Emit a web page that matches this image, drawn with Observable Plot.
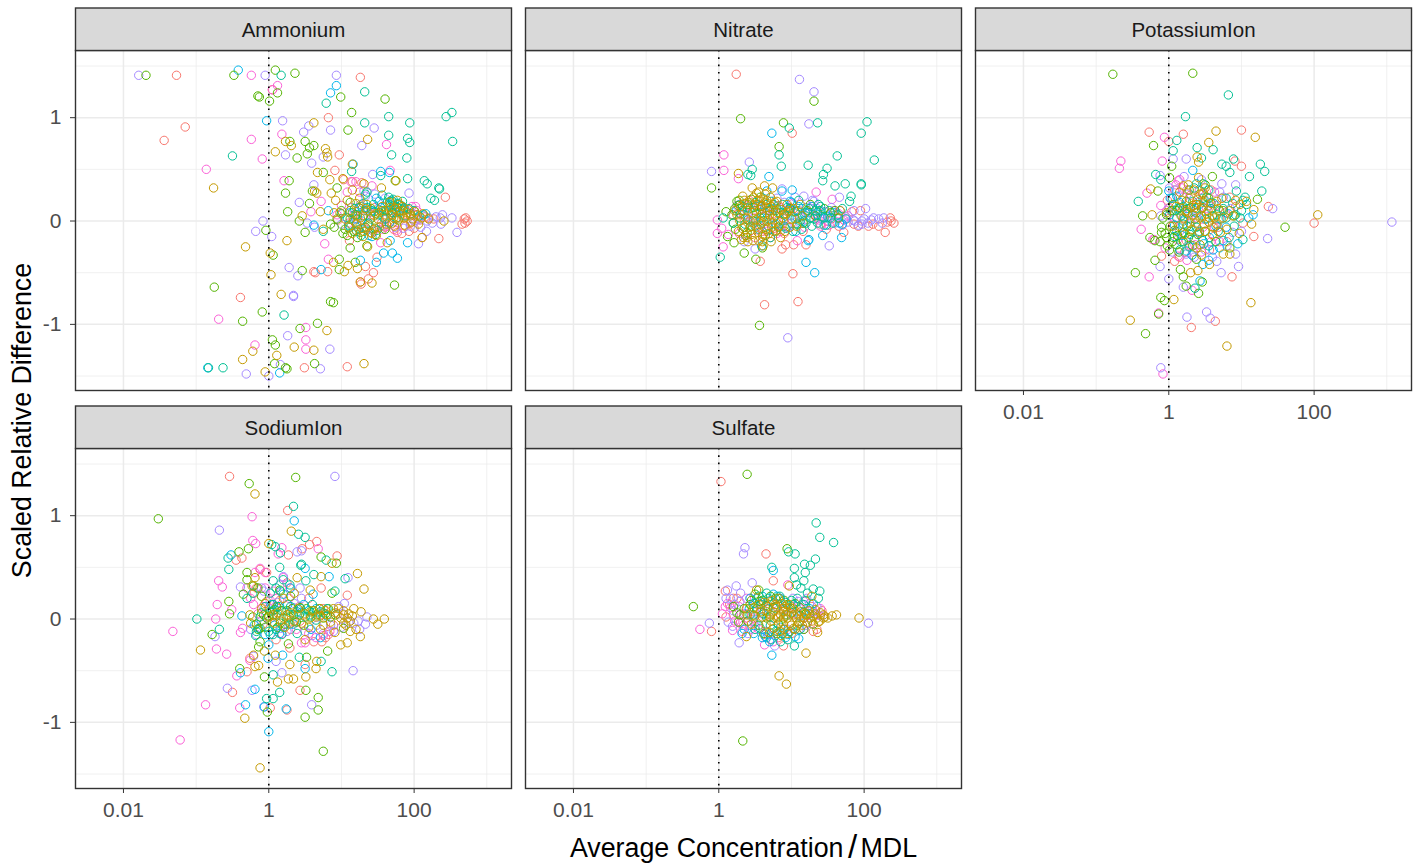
<!DOCTYPE html>
<html><head><meta charset="utf-8">
<style>html,body{margin:0;padding:0;background:#fff}</style>
<script src="https://cdn.jsdelivr.net/npm/d3@7"></script>
<script src="https://cdn.jsdelivr.net/npm/@observablehq/plot@0.6"></script>
</head><body><div id="chart"></div>
<script>
// Each list alternates log10(average concentration / MDL), scaled relative difference.
const colours = ["#F8766D","#FB61D7","#A58AFF","#00B6EB","#53B400","#00C094","#C49A00"];
const panels = ["Ammonium","Nitrate","PotassiumIon","SodiumIon","Sulfate"];
const xTicks = [0.01,1,100], xMinor = [0.1,10,1000], yTicks = [-1,0,1], yMinor = [-1.5,-0.5,0.5,1.5];

const ammoniumRed = [-1.27,1.41,-1.15,.91,-1.44,.78,1.26,1.39,.82,1,.97,.64,.91,.49,-.39,-.74,.49,-1.42,1.08,-1.41,.05,1.27,2.43,.23,2.34,-.17,2.11,-.16,1.77,-.11,1.83,-.12,1.93,-.1,2.27,.02,2.69,.02,2.73,0,2.66,-.03,2.7,-.02,2.71,.03,1.33,-.44,1.49,-.35,1.44,-.5,1.37,-.56,1.27,-.61,1.26,-.59,.81,-.49,.62,-.49,.64,-.5,1.11,-.19,1.03,.4,1.28,.37,1.63,.03,1.58,-.05,1.9,.06,2,.06,1.31,-.06,1.4,.06,1.67,.06,1.75,.02,1.85,.05,1.95,-.02,2.05,.02,2.15,.04,1.55,-.02,1.15,.38,1.22,.02,1.35,-.08,1.46,.13,1.6,-.06,1.72,-.08,1.88,-.05,2,-.07,2.08,.01,2.2,.03,1.25,.12,.95,.01];
const ammoniumGold = [-.76,.32,.62,.95,1.36,.79,.78,.7,.8,.66,.81,.62,.23,.77,.31,.73,.09,.67,.67,.47,.84,.4,1.02,.41,1.31,.36,1.75,.39,1.55,.32,1.15,.55,.66,.27,.63,.29,.86,.27,.92,.2,1.08,.2,1.2,.17,.71,.09,.46,.05,.98,.08,1.35,.16,.75,-.08,.25,-.19,-.32,-.25,.02,-.31,.03,-.52,.89,-.4,1.09,-.43,1.04,-.49,1.22,-.46,1.26,-.59,1.42,-.6,1.63,-.21,1.36,-.25,2.11,-.16,.17,-.71,.8,-1.06,.35,-1.22,.62,-1.25,-.22,-1.26,.11,-1.3,-.36,-1.34,-.05,-1.46,1.31,-1.38,1.21,-.03,1.31,-.1,1.4,-.11,1.44,-.08,1.17,0,1.26,.03,1.72,.03,1.79,.16,1.86,.03,1.95,.05,2.04,.06,2.41,0,1.67,.13,1.58,.1,1.81,.1,1.35,.1,1.74,.12,1.82,.07,1.9,.08,1.98,.02,2.1,.03,1.6,.06,1.5,.02,1.45,.05,1.7,-.02,1.1,-.06,1.2,-.09,1.05,.02,1.12,.1,1.15,-.12,1.22,.05,1.28,-.07,1.33,.12,1.38,-.04,1.42,-.12,1.47,.07,1.52,-.06,1.56,.14,1.62,-.03,1.66,.18,1.69,.06,1.73,-.05,1.77,.2,1.8,.03,1.84,.14,1.87,-.04,1.92,.11,1.96,-.01,2.01,.09,2.06,-.03,2.12,.07,2.2,.02,1.48,-.14,1.3,-.15,1.25,.22,1.15,.3,.9,.08];
const ammoniumGreen = [-1.69,1.41,-.48,1.41,.09,1.46,.36,1.43,-.15,1.21,-.13,1.2,.12,1.24,.01,1.16,.99,1.2,1.6,1.18,1.14,1.05,1.09,.88,.5,.77,.29,.77,.62,.73,.56,.71,.53,.65,.39,.61,.28,.39,.23,.27,.26,.09,.6,.29,.56,.17,.42,0,.5,-.11,-.04,-.09,.06,-.33,.46,-.48,.97,-.37,.97,-.47,1.19,-.4,.85,-.78,.89,-.79,1.73,-.62,-.75,-.64,-.09,-.88,-.36,-.97,.43,-1.04,.67,-.99,.05,-1.15,.09,-1.2,.08,-1.38,.23,-1.42,.25,-1.43,.63,-1.38,1.35,-.24,1.02,-.12,.85,-.03,.94,.02,1.12,.02,1.19,.06,1.26,-.11,1.47,-.13,1.74,.39,.94,.32,1.12,.18,.75,.47,1.77,.13,1.67,.19,1.17,-.1,1.12,-.26,1.3,.05,1.4,.02,1.52,.08,1.62,.1,1.05,-.08,1.15,.08,1.24,.13,1.33,-.06,1.41,.12,1.46,-.07,1.55,.1,1.6,-.08,1.7,.08,1.78,.01,1.85,.1,1.95,.07,.9,-.06,1,.1,1.08,-.14,1.22,-.16];
const ammoniumTeal = [.17,1.41,1.32,1.25,.79,1.14,1.65,1.01,1.32,.95,1.94,.95,2.44,1.01,2.52,1.05,1.65,.83,1.91,.8,1.94,.76,2.53,.77,1.69,.64,1.9,.61,-.5,.63,1.91,.41,2.14,.39,2.18,.36,2.34,.32,2.35,.31,2.23,.22,2.28,.2,1.14,.48,1.33,.26,1.65,.23,.75,-.1,.21,-.91,-.63,-1.42,-.83,-1.42,1.54,.44,1.7,.19,1.72,.15,1.74,.11,1.35,.13,1.21,.06,1.08,.03,1.65,.1,1.51,.06,1.12,-.06,1.86,.13,2.13,.06,1.21,-.1,1.78,.17,1.75,.08,1.68,.14,1.82,.15,1.6,.02,1.42,.1,1,.07,1.1,-.04,1.18,.12,1.24,-.08,1.3,.17,1.37,-.02,1.44,.16,1.49,-.09,1.57,.04,1.63,.18,1.66,-.02,1.71,.21,1.76,.03,1.8,.1,1.84,.19,1.88,.05,1.93,.12,2,.1,2.07,.05,1.56,.25,1.35,.28,1.27,-.14];
const ammoniumBlue = [-.42,1.46,.93,1.31,.85,1.24,-.03,.97,1.16,.55,1.54,.48,1.66,.47,.62,-.04,2.16,.07,1.91,-.21,1.7,-.31,1.77,-.36,1.58,-.31,1.48,-.4,1.26,-.38,.72,-.47,1.42,-.15,-.84,-1.42,.15,-1.47,1.67,-.19,1.31,.1,1.54,.13,1.28,0,.82,.1,1.12,.08,1.2,.02,1.27,.14,1.36,-.03,1.45,.09,1.52,.19,1.6,.1,1.69,.2,1.76,.14,1.85,.12,1.38,-.14,1.48,.22];
const ammoniumPurple = [-1.79,1.41,-.05,1.41,.93,1.41,.19,.97,.55,.92,.48,.86,.85,.88,1.45,.9,1.28,.73,.23,.64,.75,.62,.59,.56,1.43,.45,.62,.35,1.93,.27,.42,.18,-.08,0,-.18,-.1,.04,-.15,.28,-.45,.4,-.53,.34,-.72,.34,-.73,.26,-1.11,.84,-1.24,.16,-1.39,-.31,-1.48,0,-1.5,.71,-1.43,2.39,.06,2.52,.03,2.37,-.03,2.59,-.11,2.06,-.22,2.17,-.1,2.09,-.06,.53,-.02,.63,-.06,1.31,.29,1.67,.16,1.26,.16,2,0,2.36,.03,2.18,0,1,-.03,1.14,.13,1.22,-.05,1.33,.24,1.39,.08,1.46,.26,1.55,-.05,1.6,.22,1.74,-.06,1.85,-.07,1.95,-.05,2.05,.03,2.12,.05,2.25,-.02,2.3,.04];
const ammoniumPink = [-.24,1.41,.12,1.31,.05,1.27,.18,.84,-.24,.79,-.09,.6,-.86,.5,-.69,-.95,1.62,.74,1.67,.49,.21,.39,1.08,.28,1.13,.38,.72,.19,.58,.09,.77,-.22,.82,-.37,.51,-1.03,.51,-1.15,.51,-1.24,-.19,-1.2,2.02,.14,1.42,.34,1.54,-.21,.94,.06,1.63,-.05,1.1,-.02,1.17,.06,1.25,.28,1.33,.05,1.44,-.1,1.5,.12,1.57,-.08,1.7,.1,1.76,-.09,1.88,.11,1.97,.14,2.04,.1,1.2,.38,1,.15];

const nitrateRed = [.24,1.42,1.01,.85,2.29,-.11,.57,-.39,.63,-.81,1.02,-.51,1.09,-.78,.87,-.27,.92,-.23,1.03,-.23,1.2,-.23,2.36,.03,2.41,-.02,2.06,-.05,1.83,.09,1.95,.1,1.72,-.11,2.37,0,2.32,-.01,.71,-.16,.98,.13,.48,-.02,.29,.16,.85,-.1,1.31,.06,1.4,-.03,1.86,-.03,.35,.02,.42,.2,.55,.16,.6,-.1,.68,.1,.76,-.07,.82,.15,.9,-.12,1,-.02,1.1,.1,1.16,-.1,1.25,.03,1.36,.09,1.48,-.08,1.55,.02,1.65,-.05,1.75,.02,1.92,-.05,2.12,-.03,2.2,-.05];
const nitrateGold = [.27,.46,.46,.32,.63,.34,.74,.32,.61,-.24,1.67,.1,.25,.06,.32,-.07,.39,-.16,.43,0,.48,.23,.5,.1,.52,-.06,.57,.19,.59,.06,.61,-.13,.64,.26,.66,0,.68,.13,.71,.23,.73,-.06,.75,.1,.8,.19,.82,0,.85,-.16,.89,.06,.94,.16,.98,-.06,.39,.1,.45,-.13,.55,-.19,.29,0,1.12,.16,.34,-.16,.43,-.06,.57,0,.6,.15,.7,.06,.55,.28,.66,.2,.78,.05,.75,-.1,.22,.1,.27,-.1,.3,.14,.31,-.18,.35,.2,.37,.03,.4,-.2,.42,.18,.44,-.09,.46,.08,.47,-.19,.49,.16,.51,.01,.53,.2,.54,-.11,.56,.11,.58,-.03,.6,-.15,.62,.21,.63,.04,.65,-.08,.67,.17,.69,-.12,.7,.01,.72,.14,.74,-.02,.77,.18,.79,-.09,.81,.08,.83,-.05,.86,.11,.88,.03,.91,-.1,.93,.07,.96,.1,1,.02,1.03,.12,1.07,-.05,1.15,.05,.36,.17,.33,.24,.52,.27,.6,-.2,.72,-.2];
const nitrateGreen = [1.31,1.16,.3,.99,.89,.95,.83,.72,-.1,.32,.21,-.21,.35,-.31,.51,-.37,.56,-1.01,.12,-.15,.25,.19,.1,.09,.57,.23,.29,.03,.48,.13,.75,.16,1.08,-.03,1.26,.16,1.54,.08,.2,-.02,.39,-.11,.62,0,.22,.12,.28,.2,.35,-.06,.4,.16,.18,.06,.23,-.08,.27,.15,.32,.1,.37,-.14,.44,-.05,.45,.21,.52,.07,.58,.14,.64,-.14,.7,.1,.78,.1,.82,-.06,.9,.07,.98,.12,1.05,.09,1.16,-.02,1.22,.1,1.33,.05,1.45,.12,1.6,.1,1.65,.03,.6,-.26];
const nitrateTeal = [.97,.9,1.36,.95,2.04,.96,1.96,.85,.83,.64,1.63,.63,2.14,.59,.86,.53,1.23,.54,1.49,.51,1.44,.45,1.43,.39,1.6,.34,1.74,.36,1.96,.35,1.96,.36,1.82,.24,1.8,.19,.46,.5,.4,.45,.44,.44,.02,-.35,.2,-.02,.06,.03,.71,-.16,1.31,.02,1.54,.03,1.12,0,.94,.13,.57,.03,1.37,.16,1.26,.03,.75,.03,.39,.13,1.15,.05,1.2,-.02,1.42,.04,1.38,.1,1.05,.02,.9,-.05,.65,.16,.5,-.05,.3,.07,.36,-.03,.42,.12,.5,.18,.55,-.08,.6,.08,.68,-.05,.72,.19,.78,-.1,.84,.08,.88,.16,.92,-.07,.97,.09,1.02,-.1,1.08,.1,1.14,-.08,1.19,.08,1.24,.12,1.28,-.05,1.33,.1,1.36,-.02,1.4,.14,1.45,.03,1.48,-.04,1.52,.1,1.57,-.02,1.64,.06,1.7,.12,1.1,.2];
const nitrateBlue = [.73,.85,.69,.43,1.01,.3,.87,.29,1.2,-.4,1.32,-.5,1.24,-.18,1.23,-.19,1.43,-.14,1.69,-.16,.59,-.24,1.7,-.03,.98,.19,.29,.16,.66,.29,1.08,.03,.48,0,1.4,.1,.85,0,1.17,0,1.1,.14,.8,.12,.24,.1,.33,.14,.4,.01,.52,.14,.6,.03,.72,.12,.78,-.03,.92,.05,1,.18,1.06,-.1,1.15,.12,1.23,.08,1.28,.14,1.36,.06,1.45,-.04,1.5,.04,1.58,.08,1.66,-.02,1.75,.02];
const nitratePurple = [1.11,1.37,1.31,1.25,1.24,.94,.42,.57,-.1,.48,.95,-1.13,1.52,-.24,2.02,.12,2.27,.03,1.97,-.03,1.87,0,.87,.31,1.66,.23,1.17,.24,2.13,.03,1.86,.1,.5,-.27,1.31,.19,1.67,.1,1.97,0,.66,.1,.39,.06,.94,-.06,1.5,.05,1.6,-.02,1.75,.04,.25,.15,.35,-.2,.55,.14,.72,-.03,.8,.22,.9,.18,1,.05,1.05,.23,1.12,-.02,1.2,.13,1.29,.2,1.35,.12,1.42,.02,1.55,.13,1.62,.05,1.7,-.04,1.78,-.01,1.85,.01,1.92,-.04,2,.02,2.05,-.02,2.1,.01,2.2,.02,2.25,-.02];
const nitratePink = [.07,.64,.07,.49,.27,.41,-.02,.01,.04,-.07,-.02,-.12,.06,-.25,1.34,.28,1.56,.21,.13,-.13,.48,.03,.98,.1,1.35,.03,1.63,.03,.57,-.06,.34,.06,.85,.13,1.49,0,1.08,-.19,1.2,.08,1.4,-.05,.2,.06,.28,-.12,.4,.15,.5,-.16,.6,.12,.66,-.1,.74,.07,.8,-.12,.9,.02,.96,-.06,1.02,.17,1.12,.05,1.18,-.06,1.28,.14,1.38,.01,1.46,.09,1.52,-.04,1.58,.1,1.65,.07,1.72,.01,1.78,.05];

const potassiumRed = [-.27,.86,.2,.84,1,.88,0,.77,1,.53,.91,.58,1.37,.14,2,-.02,1.17,-.15,.87,-.54,.31,-1.03,.64,-.97,.08,-.39,-.1,-.34,.47,.26,.84,.23,1.02,-.02,.24,-.19,.56,-.28,.01,.13,.38,.16,.68,-.06,-.02,.2,.08,.3,.18,.1,.22,-.3,.3,.25,.42,-.12,.5,.2,.62,-.15,.7,.02,.8,-.2,.92,.14,.58,.3,.15,-.35];
const potassiumGold = [.65,.87,1.19,.81,.55,.76,.39,.62,.41,.57,.41,.42,-.25,.31,-.23,.06,2.05,.06,1.14,-.03,1.17,.11,.97,-.12,.3,-.5,.4,-.48,.07,-.76,-.53,-.96,1.13,-.79,.8,-1.21,.2,.34,.27,.35,.84,-.32,.75,-.32,.56,-.42,-.03,.08,.24,.1,.33,.06,.38,.16,.43,.03,.47,.13,.49,-.03,.56,.03,.61,-.06,.66,-.03,.43,.26,.47,.27,.2,.03,.29,-.02,.38,-.26,.43,-.23,.66,.19,.75,.03,.84,.1,.98,.16,1.07,.19,.36,.13,.54,.1,.1,.14,.14,-.05,.18,.2,.22,-.13,.26,.08,.28,.22,.32,-.08,.34,.15,.37,-.02,.4,.21,.42,-.11,.45,.05,.48,.18,.5,-.1,.52,.07,.55,-.01,.58,.17,.6,-.13,.63,.03,.68,.12,.71,-.11,.73,.22,.8,-.08,.88,.05,.92,.2,.05,-.05,.15,.28,.35,.3,.5,.32,.45,-.33];
const potassiumGreen = [-.77,1.42,.33,1.43,-.21,.73,.04,.53,.01,.42,-.15,.29,-.36,.05,1.6,-.06,1.22,.21,-.46,-.5,-.19,-.38,-.32,-1.09,-.14,-.9,-.11,-.74,-.06,-.77,.2,-.54,.16,-.47,.24,-.63,.46,-.59,.41,-.7,.38,-.37,.6,.43,.5,.35,-.26,-.16,-.1,-.06,-.1,-.11,-.19,-.19,-.03,-.16,.06,-.16,.11,-.23,.01,-.28,.2,-.11,.29,-.1,.06,.16,.15,.13,-.03,.06,.24,.19,.84,-.26,.75,.1,.52,.23,-.12,-.2,-.08,.03,-.05,-.12,-.02,-.24,.02,-.05,.03,.1,.05,-.2,.08,-.09,.1,.1,.12,-.14,.14,-.3,.17,.05,.2,-.2,.22,.09,.25,-.05,.27,-.16,.3,.13,.33,-.24,.36,.02,.4,-.13,.45,.12,.5,-.1,.55,.22,.6,.05,.65,-.2,.7,.1,.9,.05,.28,.3];
const potassiumTeal = [.82,1.22,.23,1.01,.11,.78,.06,.68,.39,.71,.61,.69,.45,.61,.73,.55,.79,.53,.89,.6,.84,.47,1.26,.55,1.32,.48,1.11,.43,1.28,.29,.93,.29,-.18,.45,-.11,.4,-.42,.19,.15,-.28,1.02,-.18,.79,.22,1.05,.23,1.07,.16,.98,.03,.38,.36,.47,-.19,.38,-.06,.2,-.03,.66,.06,.79,.03,.11,.03,.29,-.13,.36,-.65,.47,.36,.05,.22,.08,-.15,.12,.12,.17,-.2,.2,.14,.25,.07,.28,-.25,.33,.19,.38,.12,.42,-.1,.47,.22,.5,.02,.55,-.24,.58,.12,.62,.17,.68,-.1,.72,.02,.75,.12,.83,-.16,.88,.17,.92,.06,1,.1,.35,.32,.55,.3,1.02,.2,.9,-.05];
const potassiumBlue = [.33,.49,0,.29,.43,-.58,.11,.24,.2,0,.01,.06,.47,-.42,.75,-.19,.61,-.28,1.16,.06,.38,.08,.56,-.16,.79,-.06,.11,-.1,.24,-.29,.02,.22,.05,.1,.08,-.04,.15,.18,.18,-.14,.25,.12,.3,-.05,.35,-.18,.42,.16,.48,-.22,.52,.02,.58,.18,.65,-.05,.7,-.26,.82,.07,.95,-.22,1.1,.03,.32,-.33,.55,-.38];
const potassiumPurple = [3.07,-.01,1.43,.12,1.36,-.17,.96,-.44,.72,-.5,0,-.56,-.12,-.44,.25,-.93,.52,-.88,.57,-.94,-.11,-1.42,.24,.6,.06,.6,-.12,.44,.21,.43,.73,.36,.92,.35,.2,-.64,-.11,.05,.01,.32,.47,.13,.88,-.11,.24,-.32,.66,-.39,.75,.23,0,.12,.05,-.3,.1,.3,.15,-.1,.25,.26,.3,.02,.35,-.35,.4,.08,.5,-.28,.55,.15,.6,-.35,.7,.28,.8,-.24,.85,.12,1,-.1,.92,-.32,.45,.4];
const potassiumPink = [-.06,.81,-.09,.58,-.66,.58,-.68,.51,-.3,.27,-.11,.15,-.38,-.08,-.22,-.18,-.2,-.18,-.27,-.54,-.14,-.89,-.08,-1.48,.32,-.67,-.05,-.26,.13,.39,.15,.4,.2,.23,.63,.28,.15,.13,.38,.03,.29,-.23,.13,-.34,.47,-.06,.06,-.03,.63,-.06,.36,-.23,-.03,.1,.03,.22,.08,.02,.1,.35,.12,-.18,.18,.32,.22,.02,.25,.3,.28,.12,.33,-.3,.4,.18,.45,-.3,.52,.12,.58,-.2,.65,.15,.7,-.2,.78,.08,.25,-.38,.42,.3];

const sodiumRed = [-.54,1.38,.26,1.05,.66,.75,.56,.72,.46,.68,.27,.62,.94,.61,-.45,.57,-.37,.59,-.03,.45,1.08,.23,.72,.3,-.5,-.71,-.3,-.51,.02,-.86,.25,-.88,.43,-.69,.5,-.44,.73,-.22,.78,-.18,.29,-.28,-.26,-.38,-.12,.48,-.03,.17,.43,-.02,.71,.04,.89,-.06,.11,.11,-.17,.3,-.2,.25,-.08,-.05,.05,.02,.15,.18,.3,-.1,.42,.12,.55,.2,.62,-.22,.75,.1,.82,-.15,.95,.05,.1,-.2,.25,.35];
const sodiumGold = [-.19,1.21,0,.73,.31,.85,.87,.54,1.22,.44,1.31,.29,.72,.41,.39,.4,.57,.28,-.19,.4,-.23,.32,-.94,-.3,-.33,-.96,-.12,-1.44,.51,-.56,.65,-.48,.66,-.41,.34,-.58,.27,-.58,.12,-.61,.29,-.44,.09,-.35,-.21,-.35,-.19,-.46,-.14,-.45,-.06,-.31,.99,-.25,1.08,-.23,1.59,0,1.44,0,1.5,-.05,1.27,.07,1.17,.1,1.26,-.17,.91,-.13,1.12,-.12,.71,-.1,-.26,.04,.99,.01,1.08,.01,1.12,-.02,1.03,.04,.89,.1,.8,.04,.71,.03,.2,.01,.25,.04,.16,-.02,.29,-.04,.06,.04,.57,.01,1.03,-.04,-.25,-.04,-.1,.1,0,.02,.08,-.04,.12,.06,.22,-.08,.3,.06,.35,-.02,.4,.1,.45,-.04,.5,.05,.55,-.08,.6,.08,.65,.02,.7,.1,.75,-.06,.78,.08,.85,-.03,.92,.06,.96,.1,1.03,.08,1.06,-.06,1.1,.05,1.15,.03,1.2,-.1,.35,.25,.2,.2,-.05,.15,.5,-.2];
const sodiumGreen = [-1.52,.97,.37,1.37,-.27,1.31,-.41,.65,-.28,.68,-.55,.17,-.54,.05,-.78,-.15,-.4,-.48,-.06,-.56,-.02,-.9,.5,-.95,.68,-.88,.68,-.76,.51,-.69,.52,-.37,.75,-1.28,.81,-.31,.72,.6,.93,.54,.27,-.24,-.14,-.27,-.12,-.22,-.3,.45,-.3,.38,-.35,.24,-.21,.32,-.1,.22,.87,.25,-.03,.01,.06,.04,-.17,-.05,-.12,-.09,.43,.11,.66,.04,.75,.01,.25,.08,.16,-.04,.11,.12,-.07,.04,.02,.07,1.03,-.09,.57,.07,.34,.04,-.22,.02,-.15,-.1,-.1,.06,-.05,-.08,0,.03,.05,-.03,.08,.09,.12,-.08,.18,.08,.22,-.05,.28,.02,.32,.1,.38,-.03,.42,.04,.48,-.06,.52,.1,.58,.02,.62,.08,.7,.1,.78,.05,.82,.1,.85,.02,.92,.04,.3,.22,.15,.28,-.15,.3];
const sodiumTeal = [.34,1.09,.41,.82,.5,.79,.04,.72,.09,.7,.16,.64,-.56,.59,-.55,.48,.15,.5,.45,.53,.44,.52,.79,.57,.51,.37,.62,.43,1.05,.39,.06,.37,-.3,.2,.91,.27,-.99,0,-.68,-.1,.06,-.15,.18,-.15,.15,-.71,.06,-.54,-.03,-.77,.06,-.77,.42,-.37,.87,-.51,.72,-.41,.29,.33,.39,-.14,.11,.04,.25,.01,.57,.04,.71,.07,.06,.14,-.17,-.12,.16,.27,.39,.07,-.18,-.16,-.12,.02,-.05,.12,0,-.12,.05,.08,.1,-.1,.14,.12,.2,-.08,.3,.12,.36,-.02,.44,.1,.5,.02,.6,.14,.65,-.01,.75,.06,.8,.1,.02,.25,.1,.3,.2,.38,-.22,.25];
const sodiumBlue = [.35,.95,-.52,.62,.5,.49,.83,.41,-.37,.03,0,-.25,-.01,-.38,.19,-.35,-.39,-.52,-.32,-.83,-.19,-.68,-.06,-.85,0,-1.09,.24,-.87,.5,-.48,.61,.24,.06,.14,.2,.24,.48,.14,.29,-.05,-.14,-.09,.71,-.18,-.2,-.06,-.05,-.15,.03,.14,.08,-.06,.17,.08,.26,.14,.34,-.05,.44,.06,.55,.08,.65,.1,.8,.03,.02,-.15,.15,-.14,.3,.3,.58,-.1];
const sodiumPurple = [.91,1.38,-.68,.86,.39,.65,.45,.66,.2,.41,-.39,.31,-.07,.27,.43,.3,1.09,.4,1.04,.15,.96,.12,1.35,.02,1.33,-.05,1.23,-.02,1.16,-.5,.59,-.83,.18,-.52,.1,-.41,-.21,-.36,-.23,-.69,-.57,-.67,-.74,-.17,-.17,-.15,-.07,-.85,.89,-.12,1.17,-.04,.16,-.09,.66,-.06,.34,.11,-.25,-.1,-.1,-.02,0,.1,.12,.16,.25,-.12,.35,.15,.5,-.12,.6,-.16,.75,-.14,.85,-.06,1,-.08,1.1,-.03,1.25,-.1,1.02,.05,.15,.33,.45,.2,-.1,.3];
const sodiumPink = [-.23,.99,-.22,.76,-.18,.73,.18,.69,.13,.63,.68,.68,-.69,.37,-.64,.31,-.71,.14,-.51,.09,-.73,0,-.39,-.13,-.36,-.09,-1.32,-.12,-.72,-.29,-.58,-.34,-.26,-.4,-.44,-.55,-.4,-.86,-.87,-.83,-1.22,-1.17,-.12,.49,-.19,.45,-.05,.45,.45,-.23,.5,-.23,-.21,.14,.06,.27,.29,.3,.84,-.12,-.3,.3,-.25,.2,-.15,.05,-.05,.3,.02,.18,.1,.2,.18,-.14,.28,.2,.38,-.1,.55,-.14,.65,-.18,.75,-.16,.2,.4,-.08,.12];

const sulfateRed = [.03,1.33,.65,.63,.75,.37,-.1,-.12,.09,.27,.2,.2,.89,-.26,1.3,-.12,.48,.07,.75,.01,1.07,.07,.34,.04,1.17,.01,.15,.14,.25,.2,.3,-.03,.42,-.06,.58,.14,.62,-.15,.7,.17,.82,-.18,.92,.1,1,-.14,1.1,.03,1.28,.12,1.35,-.1,1.42,.08,.1,.02];
const sulfateGold = [1.93,.01,1.56,.03,1.62,.04,1.36,-.13,1.2,-.33,.83,-.55,.93,-.63,.38,-.17,.97,.32,1.28,.22,1.33,.09,.52,.28,.8,.11,.85,.04,.89,.07,.94,.01,.75,.07,.98,.11,1.03,.04,.85,-.02,.89,-.05,.94,.07,1.07,.01,1.12,-.02,1.17,.01,1.21,.04,1.26,.01,1.3,.03,1.35,.01,1.39,-.02,1.44,.01,1.44,.04,1.03,-.09,.8,.01,.71,.04,.66,.07,.57,.07,.48,.11,.39,.04,.98,-.04,.91,.12,.82,.2,.55,.14,.6,.02,.62,.16,.65,-.05,.68,.12,.72,-.02,.74,.18,.76,-.09,.78,.14,.82,.02,.84,-.12,.87,.15,.88,.1,.9,-.1,.92,.04,.95,-.14,.97,.14,1,-.06,1.02,.1,1.05,-.1,1.08,.05,1.1,-.04,1.13,.07,1.15,-.06,1.18,.06,1.22,-.03,1.24,.08,1.28,-.02,1.32,.05,1.37,-.03,1.4,.06,1.46,.02,1.5,.01,.5,.03,.45,-.05,.38,.1,.7,-.13,.86,-.16];
const sulfateGreen = [.39,1.4,-.35,.12,.33,-1.18,.94,.68,.55,.28,.25,.06,.43,.14,.57,.17,.75,.11,.94,.14,1.12,.11,.29,.04,.48,.04,.66,.01,.89,.01,1.17,-.1,.5,.24,.71,.22,.35,.1,.4,-.02,.45,.18,.52,.1,.55,-.06,.6,.18,.65,.13,.7,.02,.78,.2,.82,-.05,.9,.18,1,.06,1.05,.15,1.08,-.06,1.2,.05,1.3,-.05,.2,.12,.27,-.03,.62,-.14,.8,-.14];
const sulfateTeal = [1.34,.93,1.39,.79,1.58,.74,.96,.65,1.05,.63,1.33,.58,1.18,.53,1.26,.52,.73,.5,1.04,.49,1.19,.45,1.04,.4,1.17,.37,1.07,.33,1.13,.3,1.3,.29,1.39,.27,1.37,.2,1.04,-.26,.57,.14,.66,.25,.84,.22,.71,-.06,.94,.04,1.03,.14,1.17,.14,.8,-.12,.43,.04,.57,-.09,.48,.15,.55,.22,.62,.05,.68,.2,.74,-.1,.78,.1,.84,.2,.88,-.14,.92,.16,.98,-.12,1,.18,1.08,.2,1.12,-.1,1.2,.18,1.25,.05,1.3,.15,.72,-.2,.85,-.22,.95,-.2,.5,-.1,1.22,.25];
const sulfateBlue = [.75,.47,.73,-.35,.92,-.18,1.1,-.19,.64,-.17,.32,-.14,.66,-.18,.75,.24,.43,.2,.89,-.1,.57,.01,1.17,.07,.35,-.1,.42,.1,.48,-.14,.52,.2,.6,-.18,.68,.1,.7,-.22,.78,-.16,.8,.22,.85,-.08,.95,-.15,1,.1,1.05,-.17,1.12,.03,1.25,.1,.6,.22];
const sulfatePurple = [.36,.69,.34,.63,.24,.32,.46,.35,.12,.28,-.13,-.04,.13,-.03,.19,-.07,.28,-.23,2.06,-.04,.77,-.26,1.21,.2,1.09,.17,.16,.2,.29,.17,1.3,.07,.48,-.02,.89,.09,.1,.2,.2,.08,.22,.14,.3,.25,.35,.05,.4,-.14,.5,.15,.6,.1,.68,-.15,.75,.15,.85,.2,.95,-.1,1.02,.2,1.1,-.1,1.25,.15,1.35,.12,1.4,.03,1.2,-.06];
const sulfatePink = [-.26,-.1,.09,.12,.19,-.11,.63,-.25,.95,.33,.2,.04,.29,-.04,.5,-.07,.43,.2,.75,-.22,1.17,-.1,1.3,.07,1.17,.17,.48,.01,.16,.11,.34,-.06,.05,.05,.12,.15,.22,-.02,.28,.12,.32,-.12,.38,.05,.44,-.1,.55,-.1,.6,.05,.65,-.12,.8,.12,.9,-.1,1,.05,1.1,.12,1.22,-.04,1.35,.04,1.4,.1,.38,.2];

const series = [
  [ammoniumRed,ammoniumPink,ammoniumPurple,ammoniumBlue,ammoniumGreen,ammoniumTeal,ammoniumGold],
  [nitrateRed,nitratePink,nitratePurple,nitrateBlue,nitrateGreen,nitrateTeal,nitrateGold],
  [potassiumRed,potassiumPink,potassiumPurple,potassiumBlue,potassiumGreen,potassiumTeal,potassiumGold],
  [sodiumRed,sodiumPink,sodiumPurple,sodiumBlue,sodiumGreen,sodiumTeal,sodiumGold],
  [sulfateRed,sulfatePink,sulfatePurple,sulfateBlue,sulfateGreen,sulfateTeal,sulfateGold]
];
const colOf = i => "c" + (i % 3), rowOf = i => "r" + Math.floor(i / 3);
const rows = [];
series.forEach((groups, p) => groups.forEach((list, g) => {
  for (let k = 0; k < list.length; k += 2)
    rows.push({col: colOf(p), row: rowOf(p), group: g, x: 10 ** list[k], y: list[k + 1]});
}));
const strips = panels.map((name, i) => ({name, col: colOf(i), row: rowOf(i)}));
const grid = {stroke: "#EBEBEB", strokeOpacity: 1};
const font = '"Liberation Sans", Arial, sans-serif';

const chart = Plot.plot({
  width: 1418, height: 867,
  marginLeft: 75, marginRight: 7, marginTop: 49.5, marginBottom: 79,
  style: {fontFamily: font, background: "#fff"},
  fx: {domain: ["c0","c1","c2"], paddingInner: 14.5 / 450, paddingOuter: 0, axis: null, label: null},
  fy: {domain: ["r0","r1"], paddingInner: 58 / 398, paddingOuter: 0, axis: null, label: null},
  x: {type: "log", domain: [10 ** -2.66, 10 ** 3.34], axis: null},
  y: {domain: [-1.64, 1.65], axis: null},
  color: {type: "ordinal", domain: d3.range(7), range: colours},
  marks: [
    Plot.gridX(xMinor, {...grid, strokeWidth: 0.75}),
    Plot.gridY(yMinor, {...grid, strokeWidth: 0.75}),
    Plot.gridX(xTicks, {...grid, strokeWidth: 1.5}),
    Plot.gridY(yTicks, {...grid, strokeWidth: 1.5}),
    Plot.dot(rows, {fx: "col", fy: "row", x: "x", y: "y", r: 4.2, stroke: "group", fill: "none", strokeWidth: 1}),
    Plot.ruleX([1], {stroke: "#000", strokeWidth: 1.6, strokeDasharray: "1.6 5.7"}),
    Plot.frame({stroke: "#333", strokeWidth: 1.4}),
    Plot.frame({fill: "#D9D9D9", stroke: "#333", strokeWidth: 1.4, insetTop: -42.5, insetBottom: 340}),
    Plot.text(strips, {fx: "col", fy: "row", text: "name", frameAnchor: "top", dy: -20.5, lineAnchor: "middle", fontSize: 20.5, fill: "#1A1A1A"}),
    Plot.axisX({ticks: xTicks, tickFormat: d => String(d), label: null, anchor: "bottom", facetAnchor: "bottom-empty", tickSize: 5, tickPadding: 9, stroke: "#333", fill: "#4D4D4D", fontSize: 21}),
    Plot.axisY({ticks: yTicks, tickFormat: d => String(d), label: null, anchor: "left", tickSize: 5, tickPadding: 9, stroke: "#333", fill: "#4D4D4D", fontSize: 21}),
    Plot.text(["Average Concentration"], {fx: () => "c1", fy: () => "r1", text: d => d, frameAnchor: "bottom", textAnchor: "end", lineAnchor: "middle", dx: 100, dy: 60, fontSize: 26.8, fill: "#000"}),
    Plot.text(["/"], {fx: () => "c1", fy: () => "r1", text: d => d, frameAnchor: "bottom", lineAnchor: "middle", dx: 109, dy: 59, fontSize: 33, fontWeight: 300, fill: "#000"}),
    Plot.text(["MDL"], {fx: () => "c1", fy: () => "r1", text: d => d, frameAnchor: "bottom", textAnchor: "start", lineAnchor: "middle", dx: 117, dy: 60, fontSize: 26.8, fill: "#000"}),
    Plot.text(["Scaled Relative Difference"], {fx: () => "c0", fy: () => "r0", text: d => d, frameAnchor: "bottom-left", rotate: -90, textAnchor: "middle", lineAnchor: "middle", dx: -53, dy: 30, fontSize: 26.8, fill: "#000"})
  ]
});
document.getElementById("chart").appendChild(chart);
</script></body></html>
